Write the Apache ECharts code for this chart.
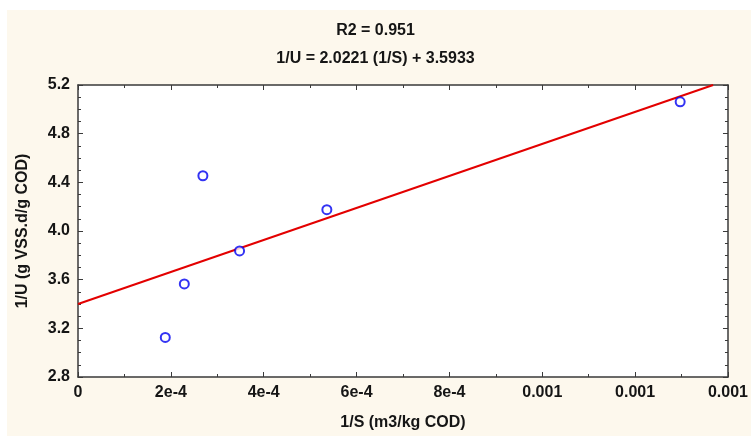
<!DOCTYPE html>
<html>
<head>
<meta charset="utf-8">
<script src="https://cdn.jsdelivr.net/npm/echarts@6/dist/echarts.min.js"></script>
<style>
html,body{margin:0;padding:0;background:#ffffff;}
#wrap{position:absolute;left:7px;top:10px;width:744px;height:426px;background:#fdf8ed;}
#chart{position:absolute;left:0;top:0;width:751px;height:436px;}
</style>
</head>
<body>
<div id="wrap"></div>
<div id="chart"></div>
<script>
// Data
const pointsX = [0.000188, 0.000229, 0.000269, 0.000348, 0.000536, 0.001297];
const pointsY = [3.125, 3.565, 4.454, 3.836, 4.175, 5.062];
const lineX = [0, 0.001368];
const lineY = [3.40, 5.20];
const xTickLabels = ['0', '2e-4', '4e-4', '6e-4', '8e-4', '0.001', '0.001', '0.001'];
const yTickValues = [2.8, 3.2, 3.6, 4.0, 4.4, 4.8, 5.2];
const titleLines = ['R2 = 0.951', '1/U = 2.0221 (1/S) + 3.5933'];
const xName = '1/S (m3/kg COD)';
const yName = '1/U (g VSS.d/g COD)';

const FONT = "'Liberation Sans Narrow', 'Liberation Sans', Arial, sans-serif";
const axisColor = '#3a3a3a';
const textColor = '#151515';

const chart = echarts.init(document.getElementById('chart'), null, {renderer: 'canvas'});

function baseX(extra) {
  return Object.assign({
    type: 'value', min: 0, max: 0.0014, interval: 0.0002,
    axisLine: {show: true, onZero: false, lineStyle: {color: axisColor, width: 1.5}},
    axisTick: {show: true, inside: true, length: 5, lineStyle: {color: axisColor}},
    minorTick: {show: true, splitNumber: 2, length: 3, lineStyle: {color: axisColor}},
    splitLine: {show: false}
  }, extra);
}
function baseY(extra) {
  return Object.assign({
    type: 'value', min: 2.8, max: 5.2, interval: 0.4,
    axisLine: {show: true, onZero: false, lineStyle: {color: axisColor, width: 1.5}},
    axisTick: {show: true, inside: true, length: 5, lineStyle: {color: axisColor}},
    minorTick: {show: true, splitNumber: 4, length: 3, lineStyle: {color: axisColor}},
    splitLine: {show: false}
  }, extra);
}

chart.setOption({
  animation: false,
  backgroundColor: 'transparent',
  title: [
    {text: titleLines[0], left: 'center', top: 18, textStyle: {fontFamily: FONT, fontWeight: 'bold', fontSize: 16, color: textColor}},
    {text: titleLines[1], left: 'center', top: 46, textStyle: {fontFamily: FONT, fontWeight: 'bold', fontSize: 16, color: textColor}}
  ],
  grid: {left: 78, right: 18, top: 85, bottom: 56, show: true, backgroundColor: '#ffffff', borderWidth: 0},
  xAxis: [
    baseX({
      position: 'bottom',
      name: xName, nameLocation: 'middle', nameGap: 38,
      nameTextStyle: {fontFamily: FONT, fontWeight: 'bold', fontSize: 16, color: textColor},
      axisLabel: {
        show: true, margin: 8, fontFamily: FONT, fontWeight: 'bold', fontSize: 16, color: textColor,
        formatter: function (v) { return xTickLabels[Math.round(v / 0.0002)]; }
      }
    }),
    baseX({position: 'top', axisLabel: {show: false}})
  ],
  yAxis: [
    baseY({
      position: 'left',
      name: yName, nameLocation: 'middle', nameGap: 47,
      nameTextStyle: {fontFamily: FONT, fontWeight: 'bold', fontSize: 16, color: textColor},
      axisLabel: {
        show: true, margin: 8, fontFamily: FONT, fontWeight: 'bold', fontSize: 16, color: textColor,
        formatter: function (v) {
          const t = yTickValues.find(function (u) { return Math.abs(u - v) < 1e-6; });
          return t === undefined ? '' : t.toFixed(1);
        }
      }
    }),
    baseY({position: 'right', axisLabel: {show: false}})
  ],
  series: [
    {
      type: 'line',
      data: lineX.map(function (x, i) { return [x, lineY[i]]; }),
      showSymbol: false, symbol: 'none',
      lineStyle: {color: '#e30000', width: 2},
      clip: true, z: 2
    },
    {
      type: 'scatter',
      data: pointsX.map(function (x, i) { return [x, pointsY[i]]; }),
      symbol: 'circle', symbolSize: 9,
      itemStyle: {color: '#ffffff', borderColor: '#0000f0', borderWidth: 2},
      z: 3
    }
  ]
});
</script>
</body>
</html>
